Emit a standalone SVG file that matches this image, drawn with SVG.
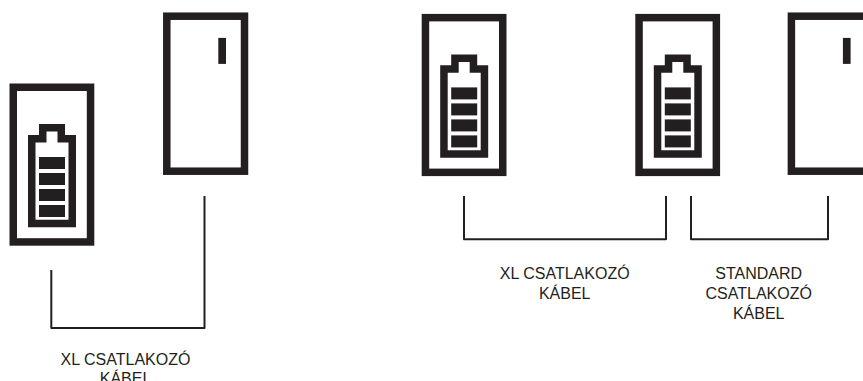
<svg xmlns="http://www.w3.org/2000/svg" width="863" height="381" viewBox="0 0 863 381">
<style>
.frame{fill:none;stroke:#231f20;stroke-width:7.5}
.ink{fill:#231f20}
.wire{fill:none;stroke:#231f20;stroke-width:2;stroke-linejoin:round;stroke-linecap:butt}
text{font-family:"Liberation Sans",Arial,sans-serif;font-size:16px;fill:#231f20;text-anchor:middle}
</style>
<defs>
<g id="battery">
<rect class="frame" x="13.25" y="87.25" width="77.3" height="154.7"/>
<path class="frame" d="M31.75 223.6V138.7H42.75V127.75H61.25V138.7H72.25V223.6Z"/>
<rect class="ink" x="39" y="157" width="26" height="12"/>
<rect class="ink" x="39" y="173" width="26" height="12"/>
<rect class="ink" x="39" y="189" width="26" height="12"/>
<rect class="ink" x="39" y="205" width="26" height="12"/>
</g>
<g id="door">
<rect class="frame" x="0" y="0" width="77.7" height="155"/>
<rect class="ink" x="51.5" y="21.7" width="7.7" height="26"/>
</g>
</defs>
<rect width="863" height="381" fill="#fff"/>
<g id="battery-1"><use href="#battery"/></g>
<g id="door-1"><use href="#door" x="166.8" y="16.2"/></g>
<g id="battery-2"><use href="#battery" x="412.2" y="-69.6"/></g>
<g id="battery-3"><use href="#battery" x="625.8" y="-69.6"/></g>
<g id="door-2"><use href="#door" x="791.4" y="16.2"/></g>
<g id="connectors">
<path class="wire" d="M51.3 270V328H204.5V196"/>
<path class="wire" d="M464 196V239.3H666V196"/>
<path class="wire" d="M691 196V239.3H828V196"/>
</g>
<g id="label-1"><text x="125.5" y="364.5">XL CSATLAKOZÓ</text><text x="125.5" y="384">KÁBEL</text></g>
<g id="label-2"><text x="564.7" y="279.3">XL CSATLAKOZÓ</text><text x="564.7" y="298.7">KÁBEL</text></g>
<g id="label-3"><text x="758.7" y="279.3">STANDARD</text><text x="758.7" y="298.7">CSATLAKOZÓ</text><text x="758.7" y="318.5">KÁBEL</text></g>
</svg>
